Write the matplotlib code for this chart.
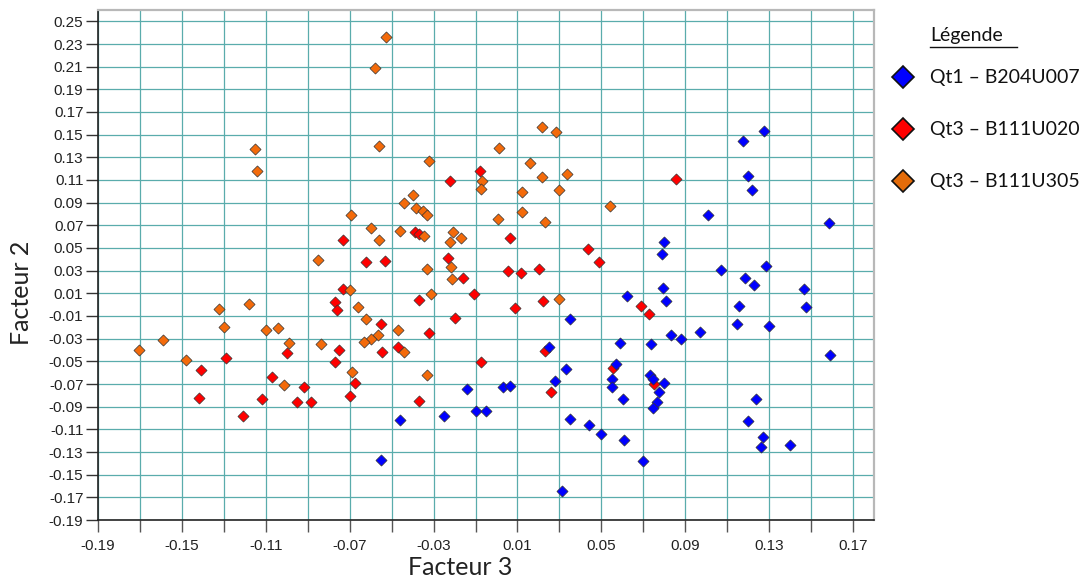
import matplotlib

matplotlib.use("Agg")
import matplotlib.pyplot as plt
from matplotlib.lines import Line2D
import numpy as np

# Qt1 - B204U007
blue_x = [-0.055, -0.046, -0.025, -0.014, -0.010, -0.005, 0.003, 0.0065, 0.025, 0.028,
          0.031, 0.033, 0.035, 0.035, 0.044, 0.050, 0.055, 0.055, 0.057, 0.059,
          0.0605, 0.061, 0.062, 0.070, 0.073, 0.0745, 0.0735, 0.0775, 0.0765, 0.0745,
          0.080, 0.079, 0.080, 0.0795, 0.081, 0.083, 0.088, 0.097, 0.101, 0.107,
          0.1145, 0.1155, 0.1185, 0.123, 0.1285, 0.130, 0.1465, 0.1475, 0.1585, 0.159,
          0.1235, 0.120, 0.127, 0.126, 0.140, 0.1275, 0.1175, 0.120, 0.122]
blue_y = [-0.137, -0.102, -0.098, -0.074, -0.0935, -0.0935, -0.073, -0.072, -0.037, -0.067,
          -0.164, -0.057, -0.101, -0.013, -0.106, -0.114, -0.066, -0.073, -0.052, -0.034,
          -0.083, -0.119, 0.008, -0.138, -0.062, -0.066, -0.035, -0.077, -0.0855, -0.091,
          -0.069, 0.045, 0.055, 0.0145, 0.003, -0.027, -0.030, -0.024, 0.079, 0.031,
          -0.017, -0.001, 0.0235, 0.017, 0.034, -0.019, 0.014, -0.0025, 0.072, -0.044,
          -0.083, -0.103, -0.117, -0.126, -0.124, 0.153, 0.144, 0.1135, 0.101]

# Qt3 - B111U020
red_x = [-0.141, -0.129, -0.142, -0.121, -0.112, -0.100, -0.107, -0.092, -0.095, -0.0885,
         -0.077, -0.076, -0.073, -0.073, -0.075, -0.077, -0.070, -0.0675, -0.062, -0.053,
         -0.055, -0.0545, -0.047, -0.039, -0.037, -0.037, -0.037, -0.023, -0.016, -0.020,
         -0.032, -0.022, -0.008, -0.0105, 0.0065, 0.0055, 0.0115, 0.0205, 0.009, 0.022,
         -0.0075, 0.023, 0.026, 0.0435, 0.049, 0.069, 0.0725, 0.0555, 0.075, 0.0855]
red_y = [-0.058, -0.047, -0.082, -0.0985, -0.083, -0.043, -0.064, -0.073, -0.086, -0.086,
         0.002, -0.0045, 0.014, 0.057, -0.040, -0.051, -0.0805, -0.069, 0.038, 0.0385,
         -0.017, -0.042, -0.037, 0.064, 0.062, 0.004, -0.085, 0.041, 0.0235, -0.012,
         -0.025, 0.1095, 0.118, 0.009, 0.059, 0.030, 0.028, 0.0315, -0.003, 0.003,
         -0.051, -0.041, -0.077, 0.049, 0.038, -0.001, -0.0085, -0.056, -0.070, 0.111]

# Qt3 - B111U305
orange_x = [-0.1705, -0.159, -0.148, -0.1325, -0.130, -0.118, -0.115, -0.114, -0.110, -0.104,
            -0.099, -0.1015, -0.085, -0.0835, -0.0695, -0.070, -0.066, -0.062, -0.069, -0.060,
            -0.056, -0.058, -0.0525, -0.056, -0.047, -0.0565, -0.060, -0.063, -0.044, -0.046,
            -0.044, -0.040, -0.0385, -0.035, -0.033, -0.0345, -0.033, -0.031, -0.033, -0.032,
            -0.0205, -0.022, -0.017, -0.0215, -0.021, 0.001, -0.007, -0.0075, 0.0005, 0.012,
            0.012, 0.016, 0.0215, 0.0285, 0.0215, 0.0335, 0.030, 0.023, 0.054, 0.030]
orange_y = [-0.040, -0.031, -0.049, -0.004, -0.020, 0.0005, 0.137, 0.118, -0.022, -0.021,
            -0.034, -0.0705, 0.039, -0.0345, 0.079, 0.0125, -0.0025, -0.013, -0.059, 0.068,
            0.057, 0.2085, 0.2365, 0.140, -0.022, -0.027, -0.030, -0.033, -0.0415, 0.065,
            0.090, 0.0965, 0.0855, 0.083, 0.079, 0.061, 0.0315, 0.009, -0.062, 0.127,
            0.064, 0.0555, 0.059, 0.0335, 0.023, 0.1385, 0.109, 0.102, 0.0755, 0.0815,
            0.0995, 0.125, 0.1565, 0.1525, 0.1125, 0.1155, 0.101, 0.073, 0.087, 0.005]

series_labels = ["Qt1 \u2013 B204U007", "Qt3 \u2013 B111U020", "Qt3 \u2013 B111U305"]
point_colors = ["#0000ff", "#ff0000", "#f36a0a"]
legend_colors = ["#0000ff", "#ff0000", "#e46c0a"]

x_ticks = np.round(np.arange(-0.19, 0.171, 0.02), 2)
y_ticks = np.round(np.arange(-0.19, 0.251, 0.02), 2)

LABEL_FONT = ["Lato", "DejaVu Sans"]
TICK_FONT = ["Liberation Sans", "DejaVu Sans"]

fig = plt.figure(figsize=(10.87, 5.83), dpi=100, facecolor="white")
ax = fig.add_axes([98 / 1087, 1 - 520 / 583, 776 / 1087, 510 / 583])

ax.set_xlim(-0.19, 0.18)
ax.set_ylim(-0.19, 0.26)
ax.set_xticks(x_ticks)
ax.set_yticks(y_ticks)
ax.set_xticklabels([f"{v:.2f}" if i % 2 == 0 else "" for i, v in enumerate(x_ticks)])
ax.set_yticklabels([f"{v:.2f}" for v in y_ticks])
for lbl in ax.get_xticklabels() + ax.get_yticklabels():
    lbl.set_family(TICK_FONT)
    lbl.set_fontsize(11)
    lbl.set_color("#222222")
ax.tick_params(axis="x", direction="out", length=8.5, width=1, color="#555555", pad=5)
ax.tick_params(axis="y", direction="out", length=8.5, width=1, color="#333333", pad=2)

ax.grid(True, color="#5aacac", linewidth=0.9, zorder=0)
ax.set_axisbelow(True)

for name in ("left", "bottom"):
    ax.spines[name].set_color("#222222")
    ax.spines[name].set_linewidth(1.2)
for name in ("top", "right"):
    ax.spines[name].set_color("#b8b8b8")
    ax.spines[name].set_linewidth(1.6)

for xs, ys, c in (
    (red_x, red_y, point_colors[1]),
    (orange_x, orange_y, point_colors[2]),
    (blue_x, blue_y, point_colors[0]),
):
    ax.scatter(xs, ys, marker="D", s=32, color=c, edgecolor="#333333",
               linewidth=0.5, zorder=3)

ax.set_xlabel("Facteur 3", family=LABEL_FONT, fontsize=18, color="#222222")
ax.xaxis.set_label_coords(0.4665, -0.094)
ax.xaxis.label.set_va("center")
ax.set_ylabel("Facteur 2", family=LABEL_FONT, fontsize=18, color="#222222")
ax.yaxis.set_label_coords(-0.099, 0.445)
ax.yaxis.label.set_va("center")

# legend drawn in figure pixels
W, H = 1087, 583
fig.text(930 / W, 1 - 35 / H, "Légende", family=LABEL_FONT, fontsize=14,
         va="center", ha="left", color="#111111")
fig.add_artist(Line2D([930 / W, 1017 / W], [1 - 46.5 / H, 1 - 46.5 / H],
                      transform=fig.transFigure, color="#111111", linewidth=1))
for i, (label, c) in enumerate(zip(series_labels, legend_colors)):
    yy = 1 - (77 + 52 * i) / H
    fig.add_artist(Line2D([903 / W], [yy], transform=fig.transFigure, marker="D",
                          markersize=11, color=c, markeredgecolor="#111111",
                          markeredgewidth=1.2, linestyle="none"))
    fig.text(930 / W, yy, label, family=LABEL_FONT, fontsize=14, va="center",
             ha="left", color="#111111")

fig.savefig("out.png", dpi=100)
